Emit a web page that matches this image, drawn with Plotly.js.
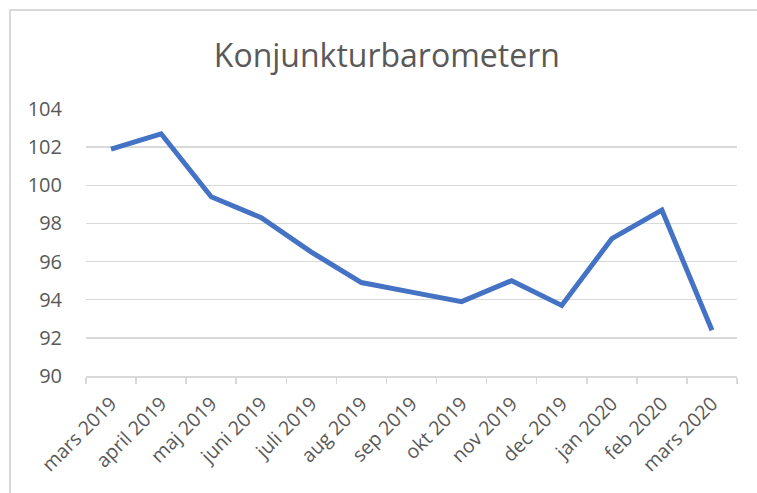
<!DOCTYPE html>
<html><head><meta charset="utf-8">
<script src="https://cdn.plot.ly/plotly-3.0.1.min.js"></script>
<style>
html,body{margin:0;padding:0;background:#fff;}
#wrap{position:relative;width:757px;height:493px;overflow:hidden;}
#chart{position:absolute;left:0;top:0;width:757px;height:493px;}
#border{position:absolute;left:9px;top:9px;width:800px;height:600px;border:2px solid #d9d9d9;pointer-events:none;}
</style></head>
<body>
<div id="wrap"><div id="chart"></div><div id="border"></div></div>
<script>
const months = ["mars 2019","april 2019","maj 2019","juni 2019","juli 2019","aug 2019","sep 2019","okt 2019","nov 2019","dec 2019","jan 2020","feb 2020","mars 2020"];
const values = [101.9,102.7,99.4,98.3,96.5,94.9,94.4,93.9,95.0,93.7,97.2,98.7,92.4];
const yTicks = [90,92,94,96,98,100,102,104];

Plotly.newPlot('chart',[{
  x: months, y: values, type:'scatter', mode:'lines',
  line:{color:'#4472C4', width:5}, hoverinfo:'skip'
}],{
  width:757, height:493,
  margin:{l:86,r:20,t:109,b:117},
  paper_bgcolor:'rgba(0,0,0,0)', plot_bgcolor:'#fff',
  showlegend:false,
  title:{text:'Konjunkturbarometern', x:0.511, xanchor:'center', y:0.886, yanchor:'middle',
    font:{family:'Open Sans, sans-serif', size:32, color:'#595959'}},
  xaxis:{type:'category', range:[-0.5,12.5], tickangle:-45, tickson:'boundaries', ticks:'outside', ticklen:6, tickcolor:'#d9d9d9', tickwidth:1.5,
    showline:true, linecolor:'#d9d9d9', linewidth:1.5, showgrid:false, zeroline:false, automargin:false, ticklabelstandoff:7,
    tickfont:{family:'Open Sans, sans-serif', size:19.5, color:'#595959'}, fixedrange:true},
  yaxis:{range:[90,104], tickvals:yTicks, showgrid:true, gridcolor:'#d9d9d9', gridwidth:1.5,
    zeroline:false, showline:false, ticks:'', ticklabelstandoff:23, automargin:false,
    tickfont:{family:'Open Sans, sans-serif', size:20, color:'#595959'}, fixedrange:true}
},{displayModeBar:false, staticPlot:true});
</script>
</body></html>
